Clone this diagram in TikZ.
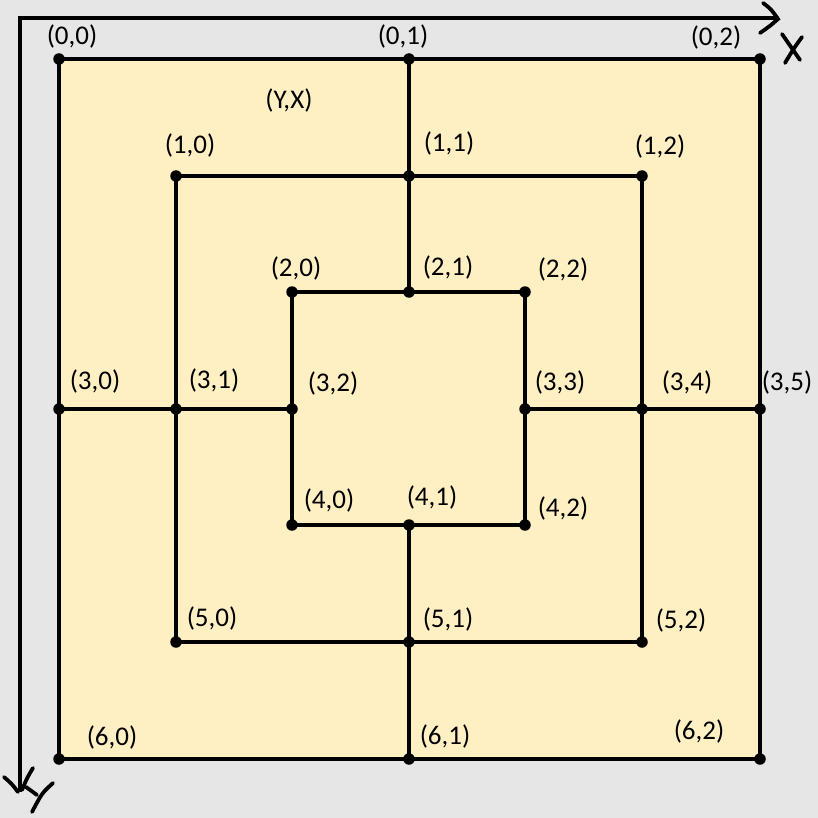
\documentclass[tikz,border=0pt]{standalone}
\usepackage{fontspec}
\setmainfont{Carlito}
\definecolor{bg}{HTML}{E6E6E6}
\definecolor{pad}{HTML}{FFF0C4}
\begin{document}
\begin{tikzpicture}[x=1pt,y=-1pt,
  dot/.style={circle,fill=black,inner sep=0pt,minimum size=11.5pt},
  lbl/.style={font=\fontsize{27}{30}\selectfont,inner sep=0pt,anchor=center},
  edge/.style={line width=3.4pt},
  axis/.style={line width=4.5pt,line join=miter},
  hand/.style={line width=3.8pt,line cap=round}]
\fill[bg] (0,0) rectangle (818,818);
\useasboundingbox (0,0) rectangle (818,818);
% grid points
\coordinate (p00) at (59,59);   \coordinate (p01) at (409,59);  \coordinate (p02) at (760,59);
\coordinate (p10) at (176,176); \coordinate (p11) at (409,176); \coordinate (p12) at (642,176);
\coordinate (p20) at (292,292); \coordinate (p21) at (409,292); \coordinate (p22) at (525,292);
\coordinate (p30) at (59,409);  \coordinate (p31) at (176,409); \coordinate (p32) at (292,409);
\coordinate (p33) at (525,409); \coordinate (p34) at (642,409); \coordinate (p35) at (760,409);
\coordinate (p40) at (292,525); \coordinate (p41) at (409,525); \coordinate (p42) at (525,525);
\coordinate (p50) at (176,642); \coordinate (p51) at (409,642); \coordinate (p52) at (642,642);
\coordinate (p60) at (59,759);  \coordinate (p61) at (409,759); \coordinate (p62) at (760,759);
% squares
\draw[edge,fill=pad] (p00) -- (p02) -- (p62) -- (p60) -- cycle;
\draw[edge] (p10) -- (p12) -- (p52) -- (p50) -- cycle;
\draw[edge] (p20) -- (p22) -- (p42) -- (p40) -- cycle;
% cross connectors
\draw[edge] (p01) -- (p21);
\draw[edge] (p41) -- (p61);
\draw[edge] (p30) -- (p32);
\draw[edge] (p33) -- (p35);
% dots
\foreach \n in {00,01,02,10,11,12,20,21,22,30,31,32,33,34,35,40,41,42,50,51,52,60,61,62}
  \node[dot] (d\n) at (p\n) {};
% labels
\node[lbl] (l00) at (72,37) {(0,0)};
\node[lbl] (l01) at (403,37) {(0,1)};
\node[lbl] (l02) at (716,38) {(0,2)};
\node[lbl] (lyx) at (289,100) {(Y,X)};
\node[lbl] (l10) at (190,145) {(1,0)};
\node[lbl] (l11) at (449,143) {(1,1)};
\node[lbl] (l12) at (660,146) {(1,2)};
\node[lbl] (l20) at (296,268) {(2,0)};
\node[lbl] (l21) at (448,267) {(2,1)};
\node[lbl] (l22) at (563,269) {(2,2)};
\node[lbl] (l30) at (95,381) {(3,0)};
\node[lbl] (l31) at (214,380) {(3,1)};
\node[lbl] (l32) at (333,383) {(3,2)};
\node[lbl] (l33) at (560,382) {(3,3)};
\node[lbl] (l34) at (687,382) {(3,4)};
\node[lbl] (l35) at (787,382) {(3,5)};
\node[lbl] (l40) at (329,500) {(4,0)};
\node[lbl] (l41) at (432,497) {(4,1)};
\node[lbl] (l42) at (563,508) {(4,2)};
\node[lbl] (l50) at (212,618) {(5,0)};
\node[lbl] (l51) at (448,619) {(5,1)};
\node[lbl] (l52) at (681,620) {(5,2)};
\node[lbl] (l60) at (112,737) {(6,0)};
\node[lbl] (l61) at (445,736) {(6,1)};
\node[lbl] (l62) at (699,731) {(6,2)};
% axes
\coordinate (ax0) at (20,18);
\coordinate (axX) at (778,18);
\coordinate (axY) at (20,792);
\draw[axis] (axY) -- (ax0) -- (axX);
% hand-drawn arrow heads and letters
\draw[hand] (763,3) .. controls (771,9) .. (778,19) .. controls (770,26) .. (760,33);
\draw[hand] (782,34) -- (800,60);
\draw[hand] (802,37) .. controls (794,48) .. (785,63);
\draw[hand] (4,777) .. controls (12,784) .. (18,792);
\draw[hand] (22,790) .. controls (27,778) .. (33,768);
\draw[hand] (26,787) -- (37,795);
\draw[hand] (53,783) .. controls (42,793) .. (32,812);
\end{tikzpicture}
\end{document}
